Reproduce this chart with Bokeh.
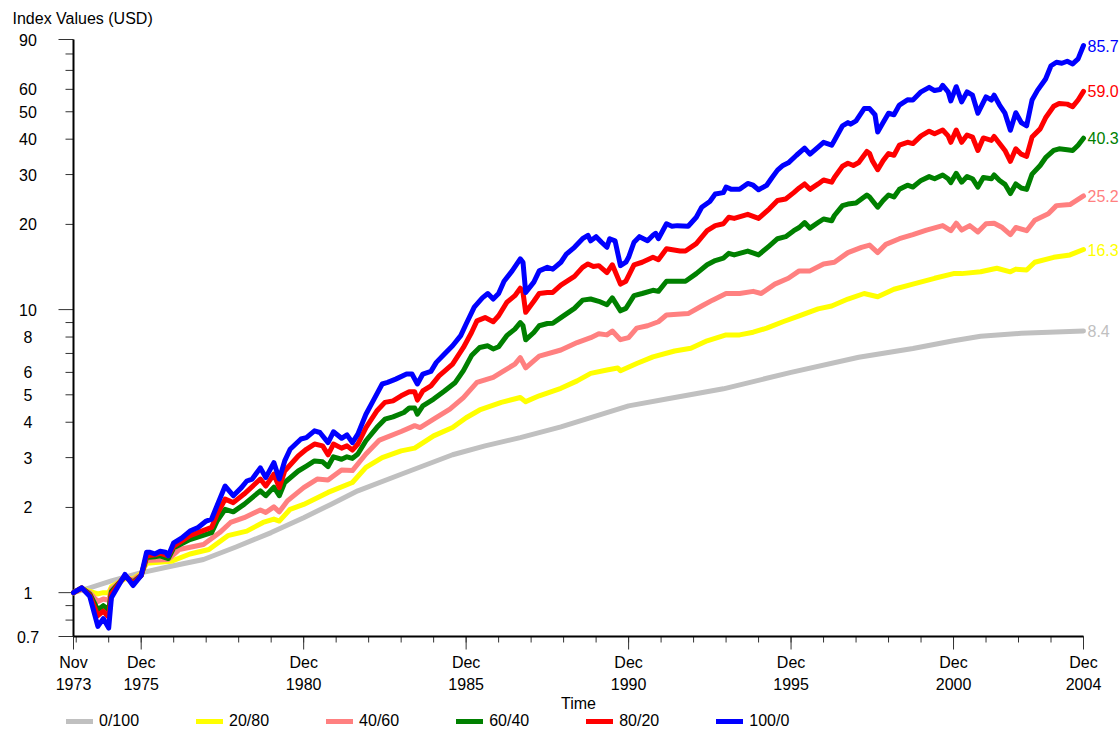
import math

from bokeh.plotting import figure
from bokeh.models import ColumnDataSource, Range1d, Legend, LegendItem
from bokeh.core.properties import value
from bokeh.embed import file_html
from bokeh.resources import INLINE

FONT = "Liberation Sans"
FS = "16px"

# Growth of 1 USD invested in Nov 1973, by equity/bond mix (month, index value)
MIX_0_100 = [
    ("1973-11", 1.00), ("1974-05", 1.04), ("1975-01", 1.10), ("1975-11", 1.17), ("1976-11", 1.24),
    ("1977-11", 1.31), ("1978-11", 1.45), ("1979-12", 1.63), ("1980-12", 1.84), ("1981-10", 2.05),
    ("1982-08", 2.29), ("1983-12", 2.62), ("1985-07", 3.07), ("1986-07", 3.30), ("1987-08", 3.53),
    ("1988-11", 3.85), ("1990-12", 4.57), ("1992-03", 4.85), ("1993-11", 5.25), ("1995-12", 6.00),
    ("1998-01", 6.79), ("1999-09", 7.29), ("2000-12", 7.76), ("2001-10", 8.05), ("2003-01", 8.25),
    ("2004-12", 8.40),
]

MIX_20_80 = [
    ("1973-11", 1.00), ("1974-02", 1.03), ("1974-05", 1.01), ("1974-08", 0.99), ("1974-10", 1.00),
    ("1974-12", 1.00), ("1975-01", 1.05), ("1975-06", 1.12), ("1975-09", 1.12), ("1975-12", 1.17),
    ("1976-02", 1.27), ("1976-11", 1.29), ("1977-06", 1.37), ("1978-01", 1.42), ("1978-08", 1.59),
    ("1979-03", 1.65), ("1979-09", 1.77), ("1980-01", 1.82), ("1980-03", 1.79), ("1980-07", 1.97),
    ("1980-12", 2.05), ("1981-09", 2.26), ("1982-06", 2.45), ("1982-11", 2.77), ("1983-05", 3.00),
    ("1983-12", 3.17), ("1984-05", 3.24), ("1984-12", 3.58), ("1985-07", 3.83), ("1985-12", 4.15),
    ("1986-05", 4.42), ("1987-01", 4.70), ("1987-08", 4.89), ("1987-10", 4.73), ("1988-03", 4.96),
    ("1988-11", 5.27), ("1989-05", 5.60), ("1989-10", 5.95), ("1990-04", 6.12), ("1990-08", 6.22),
    ("1990-09", 6.08), ("1991-03", 6.45), ("1991-09", 6.81), ("1992-05", 7.14), ("1992-11", 7.30),
    ("1993-05", 7.76), ("1993-12", 8.14), ("1994-05", 8.14), ("1994-10", 8.32), ("1995-03", 8.60),
    ("1995-09", 9.06), ("1996-03", 9.50), ("1996-10", 10.06), ("1997-03", 10.3), ("1997-09", 10.9),
    ("1998-03", 11.4), ("1998-08", 11.1), ("1999-02", 11.8), ("1999-09", 12.3), ("2000-05", 12.9),
    ("2000-12", 13.4), ("2001-03", 13.4), ("2001-10", 13.6), ("2002-04", 14.0), ("2002-09", 13.6),
    ("2002-11", 13.9), ("2003-03", 13.8), ("2003-06", 14.7), ("2004-01", 15.3), ("2004-07", 15.6),
    ("2004-12", 16.3),
]

MIX_40_60 = [
    ("1973-11", 1.00), ("1974-02", 1.03), ("1974-05", 1.00), ("1974-08", 0.93), ("1974-10", 0.95),
    ("1974-12", 0.94), ("1975-01", 1.03), ("1975-06", 1.13), ("1975-09", 1.11), ("1975-12", 1.16),
    ("1976-02", 1.30), ("1976-10", 1.31), ("1977-02", 1.42), ("1977-11", 1.48), ("1978-05", 1.63),
    ("1978-09", 1.77), ("1979-02", 1.84), ("1979-08", 1.96), ("1979-10", 1.92), ("1980-01", 2.01),
    ("1980-03", 1.93), ("1980-06", 2.11), ("1980-12", 2.35), ("1981-05", 2.52), ("1981-09", 2.50),
    ("1982-02", 2.71), ("1982-06", 2.70), ("1982-11", 3.09), ("1983-04", 3.46), ("1983-12", 3.71),
    ("1984-05", 3.89), ("1984-07", 3.83), ("1984-12", 4.10), ("1985-06", 4.45), ("1985-11", 4.89),
    ("1986-04", 5.53), ("1986-10", 5.76), ("1987-01", 6.00), ("1987-06", 6.42), ("1987-08", 6.77),
    ("1987-10", 6.23), ("1988-03", 6.85), ("1988-11", 7.20), ("1989-05", 7.65), ("1989-10", 7.96),
    ("1990-01", 8.22), ("1990-04", 8.14), ("1990-06", 8.40), ("1990-09", 7.83), ("1990-12", 7.96),
    ("1991-03", 8.60), ("1991-07", 8.77), ("1991-11", 9.06), ("1992-02", 9.57), ("1992-10", 9.68),
    ("1993-03", 10.3), ("1993-07", 10.8), ("1993-12", 11.4), ("1994-05", 11.4), ("1994-10", 11.6),
    ("1995-01", 11.4), ("1995-06", 12.3), ("1995-11", 12.9), ("1996-03", 13.7), ("1996-07", 13.7),
    ("1996-12", 14.5), ("1997-04", 14.7), ("1997-09", 15.9), ("1998-02", 16.6), ("1998-05", 16.9),
    ("1998-08", 15.9), ("1998-11", 17.0), ("1999-04", 17.8), ("1999-09", 18.4), ("2000-02", 19.1),
    ("2000-08", 19.8), ("2000-11", 19.0), ("2001-01", 20.2), ("2001-03", 19.1), ("2001-06", 19.8),
    ("2001-09", 18.8), ("2001-12", 20.1), ("2002-03", 20.2), ("2002-06", 19.5), ("2002-09", 18.4),
    ("2002-11", 19.5), ("2003-03", 19.0), ("2003-06", 20.7), ("2003-11", 21.8), ("2004-02", 23.3),
    ("2004-07", 23.5), ("2004-12", 25.2),
]

MIX_60_40 = [
    ("1973-11", 1.00), ("1974-02", 1.04), ("1974-05", 0.99), ("1974-08", 0.87), ("1974-10", 0.90),
    ("1974-12", 0.87), ("1975-01", 1.01), ("1975-06", 1.14), ("1975-09", 1.09), ("1975-12", 1.15),
    ("1976-02", 1.33), ("1976-05", 1.34), ("1976-07", 1.35), ("1976-10", 1.32), ("1976-12", 1.44),
    ("1977-06", 1.54), ("1978-02", 1.63), ("1978-04", 1.79), ("1978-07", 1.97), ("1978-10", 1.93),
    ("1979-02", 2.05), ("1979-08", 2.29), ("1979-10", 2.20), ("1980-01", 2.36), ("1980-03", 2.20),
    ("1980-05", 2.45), ("1980-10", 2.69), ("1981-01", 2.80), ("1981-04", 2.92), ("1981-07", 2.90),
    ("1981-09", 2.79), ("1981-11", 3.02), ("1982-02", 2.96), ("1982-04", 3.02), ("1982-06", 2.98),
    ("1982-08", 3.09), ("1982-11", 3.44), ("1983-03", 3.83), ("1983-06", 4.10), ("1983-09", 4.18),
    ("1984-01", 4.33), ("1984-03", 4.49), ("1984-05", 4.49), ("1984-06", 4.27), ("1984-08", 4.57),
    ("1984-12", 4.83), ("1985-04", 5.16), ("1985-08", 5.53), ("1985-11", 6.09), ("1986-02", 6.88),
    ("1986-05", 7.35), ("1986-08", 7.45), ("1986-10", 7.26), ("1986-12", 7.39), ("1987-03", 8.09),
    ("1987-06", 8.53), ("1987-08", 9.00), ("1987-09", 8.77), ("1987-10", 7.82), ("1988-01", 8.30),
    ("1988-03", 8.77), ("1988-06", 8.93), ("1988-08", 8.95), ("1988-11", 9.37), ("1989-04", 10.1),
    ("1989-07", 10.8), ("1989-10", 10.9), ("1990-01", 10.7), ("1990-04", 10.4), ("1990-06", 11.0),
    ("1990-09", 9.90), ("1990-11", 10.1), ("1991-02", 11.2), ("1991-05", 11.4), ("1991-09", 11.7),
    ("1991-11", 11.6), ("1992-02", 12.6), ("1992-07", 12.6), ("1992-09", 12.6), ("1993-01", 13.4),
    ("1993-05", 14.4), ("1993-08", 14.9), ("1993-11", 15.2), ("1994-01", 15.8), ("1994-03", 15.6),
    ("1994-08", 16.1), ("1994-12", 15.6), ("1995-04", 16.8), ("1995-07", 17.8), ("1995-10", 18.1),
    ("1996-01", 19.0), ("1996-03", 19.5), ("1996-05", 20.3), ("1996-07", 19.4), ("1996-10", 20.3),
    ("1996-12", 20.9), ("1997-03", 20.6), ("1997-04", 21.5), ("1997-07", 23.3), ("1997-09", 23.6),
    ("1997-12", 23.8), ("1998-04", 25.4), ("1998-05", 25.0), ("1998-06", 24.3), ("1998-08", 23.0),
    ("1998-10", 24.3), ("1998-12", 25.4), ("1999-02", 25.0), ("1999-04", 26.6), ("1999-07", 27.5),
    ("1999-09", 27.1), ("1999-12", 28.6), ("2000-03", 29.5), ("2000-05", 29.0), ("2000-08", 29.9),
    ("2000-10", 29.0), ("2000-11", 28.1), ("2001-01", 30.3), ("2001-03", 28.2), ("2001-05", 29.5),
    ("2001-07", 29.0), ("2001-09", 27.1), ("2001-11", 29.3), ("2002-02", 29.0), ("2002-03", 29.9),
    ("2002-05", 28.6), ("2002-07", 27.7), ("2002-09", 25.7), ("2002-11", 27.8), ("2003-01", 26.9),
    ("2003-03", 26.6), ("2003-05", 30.1), ("2003-08", 32.3), ("2003-10", 34.4), ("2004-01", 36.5),
    ("2004-03", 37.0), ("2004-06", 36.7), ("2004-08", 36.5), ("2004-10", 38.1), ("2004-12", 40.3),
]

MIX_80_20 = [
    ("1973-11", 1.00), ("1974-02", 1.04), ("1974-05", 0.98), ("1974-08", 0.83), ("1974-10", 0.86),
    ("1974-12", 0.82), ("1975-01", 0.99), ("1975-06", 1.15), ("1975-09", 1.08), ("1975-12", 1.15),
    ("1976-02", 1.35), ("1976-05", 1.36), ("1976-07", 1.38), ("1976-10", 1.35), ("1976-12", 1.46),
    ("1977-06", 1.59), ("1978-02", 1.70), ("1978-04", 1.89), ("1978-07", 2.14), ("1978-10", 2.08),
    ("1979-02", 2.23), ("1979-08", 2.52), ("1979-10", 2.38), ("1980-01", 2.62), ("1980-03", 2.35),
    ("1980-05", 2.69), ("1980-10", 3.04), ("1981-01", 3.21), ("1981-04", 3.35), ("1981-07", 3.30),
    ("1981-09", 3.07), ("1981-11", 3.35), ("1982-02", 3.24), ("1982-04", 3.30), ("1982-06", 3.19),
    ("1982-08", 3.35), ("1982-11", 3.83), ("1983-03", 4.38), ("1983-06", 4.70), ("1983-09", 4.76),
    ("1983-12", 4.96), ("1984-03", 5.13), ("1984-05", 5.13), ("1984-06", 4.79), ("1984-08", 5.16),
    ("1984-11", 5.38), ("1985-02", 5.83), ("1985-07", 6.42), ("1985-11", 7.35), ("1986-02", 8.30),
    ("1986-04", 9.12), ("1986-07", 9.37), ("1986-10", 9.06), ("1986-12", 9.51), ("1987-03", 10.6),
    ("1987-06", 11.2), ("1987-08", 11.9), ("1987-09", 11.5), ("1987-10", 9.78), ("1988-01", 10.7),
    ("1988-03", 11.4), ("1988-06", 11.5), ("1988-08", 11.5), ("1988-11", 12.2), ("1989-04", 13.1),
    ("1989-07", 14.1), ("1989-09", 14.5), ("1989-11", 14.2), ("1990-01", 14.3), ("1990-04", 13.5),
    ("1990-06", 14.4), ("1990-09", 12.3), ("1990-11", 12.6), ("1991-02", 14.4), ("1991-05", 14.7),
    ("1991-09", 15.3), ("1991-11", 15.0), ("1992-02", 16.4), ("1992-07", 16.1), ("1992-09", 16.1),
    ("1993-01", 17.1), ("1993-05", 19.0), ("1993-08", 19.8), ("1993-11", 20.1), ("1994-01", 21.2),
    ("1994-03", 21.0), ("1994-08", 21.7), ("1994-12", 21.0), ("1995-04", 22.7), ("1995-07", 24.3),
    ("1995-10", 24.6), ("1996-01", 25.9), ("1996-03", 26.9), ("1996-05", 27.8), ("1996-07", 26.6),
    ("1996-10", 27.8), ("1996-12", 28.7), ("1997-03", 28.2), ("1997-04", 29.3), ("1997-07", 32.1),
    ("1997-09", 32.9), ("1997-11", 32.3), ("1998-01", 33.1), ("1998-04", 36.2), ("1998-05", 35.6),
    ("1998-06", 33.6), ("1998-08", 31.2), ("1998-10", 33.6), ("1998-12", 35.6), ("1999-02", 35.1),
    ("1999-04", 38.1), ("1999-07", 39.0), ("1999-09", 38.6), ("1999-12", 41.1), ("2000-03", 42.7),
    ("2000-05", 41.8), ("2000-08", 43.1), ("2000-10", 41.1), ("2000-11", 39.0), ("2001-01", 43.1),
    ("2001-03", 39.0), ("2001-05", 41.4), ("2001-07", 40.7), ("2001-09", 36.5), ("2001-11", 40.4),
    ("2002-02", 39.6), ("2002-03", 40.9), ("2002-05", 38.6), ("2002-07", 36.5), ("2002-09", 33.4),
    ("2002-11", 37.0), ("2003-01", 35.4), ("2003-03", 34.8), ("2003-05", 40.7), ("2003-08", 43.5),
    ("2003-10", 47.6), ("2004-01", 52.3), ("2004-03", 53.5), ("2004-06", 53.2), ("2004-08", 52.1),
    ("2004-10", 55.0), ("2004-12", 59.0),
]

MIX_100_0 = [
    ("1973-11", 1.00), ("1974-02", 1.04), ("1974-05", 0.97), ("1974-08", 0.76), ("1974-10", 0.81),
    ("1974-12", 0.75), ("1975-01", 0.96), ("1975-06", 1.16), ("1975-09", 1.06), ("1975-12", 1.15),
    ("1976-02", 1.39), ("1976-03", 1.39), ("1976-05", 1.37), ("1976-07", 1.40), ("1976-09", 1.39),
    ("1976-10", 1.35), ("1976-12", 1.50), ("1977-03", 1.56), ("1977-06", 1.65), ("1977-09", 1.70),
    ("1977-12", 1.79), ("1978-02", 1.82), ("1978-04", 2.03), ("1978-07", 2.38), ("1978-10", 2.20),
    ("1979-01", 2.35), ("1979-03", 2.48), ("1979-05", 2.52), ("1979-08", 2.76), ("1979-10", 2.55),
    ("1980-01", 2.88), ("1980-03", 2.52), ("1980-05", 2.92), ("1980-07", 3.21), ("1980-11", 3.49),
    ("1981-01", 3.53), ("1981-04", 3.73), ("1981-06", 3.68), ("1981-09", 3.39), ("1981-11", 3.70),
    ("1982-02", 3.51), ("1982-04", 3.61), ("1982-06", 3.39), ("1982-08", 3.63), ("1982-11", 4.27),
    ("1983-02", 4.83), ("1983-05", 5.46), ("1983-07", 5.53), ("1983-10", 5.68), ("1984-02", 5.92),
    ("1984-04", 5.92), ("1984-06", 5.46), ("1984-08", 5.92), ("1984-11", 6.05), ("1985-01", 6.51),
    ("1985-04", 6.97), ("1985-07", 7.45), ("1985-10", 8.09), ("1985-12", 8.89), ("1986-03", 10.2),
    ("1986-06", 11.0), ("1986-08", 11.4), ("1986-10", 10.9), ("1986-12", 11.4), ("1987-02", 12.6),
    ("1987-05", 13.7), ("1987-08", 15.1), ("1987-09", 14.7), ("1987-10", 11.5), ("1988-01", 12.5),
    ("1988-03", 13.7), ("1988-06", 14.1), ("1988-08", 13.9), ("1988-11", 14.7), ("1989-01", 15.7),
    ("1989-04", 16.6), ("1989-07", 17.8), ("1989-09", 18.3), ("1989-10", 17.5), ("1989-12", 18.1),
    ("1990-02", 17.3), ("1990-04", 16.6), ("1990-05", 17.8), ("1990-07", 17.5), ("1990-09", 14.3),
    ("1990-11", 14.7), ("1990-12", 15.3), ("1991-02", 17.3), ("1991-04", 18.1), ("1991-07", 17.5),
    ("1991-09", 18.3), ("1991-10", 18.6), ("1991-11", 17.8), ("1992-02", 20.1), ("1992-04", 19.7),
    ("1992-06", 19.8), ("1992-10", 19.7), ("1993-01", 21.2), ("1993-03", 23.0), ("1993-06", 24.1),
    ("1993-08", 25.6), ("1993-11", 25.9), ("1993-12", 27.1), ("1994-02", 26.6), ("1994-05", 26.6),
    ("1994-08", 27.9), ("1994-10", 27.5), ("1994-12", 26.5), ("1995-03", 27.5), ("1995-05", 29.3),
    ("1995-07", 31.1), ("1995-09", 32.3), ("1995-11", 33.0), ("1996-02", 35.1), ("1996-05", 37.2),
    ("1996-07", 35.4), ("1996-10", 37.5), ("1996-12", 39.0), ("1997-03", 38.1), ("1997-04", 39.6),
    ("1997-07", 44.6), ("1997-09", 45.8), ("1997-10", 45.2), ("1997-12", 46.4), ("1998-03", 51.3),
    ("1998-05", 51.3), ("1998-07", 48.8), ("1998-08", 42.4), ("1998-10", 45.8), ("1998-12", 49.4),
    ("1999-02", 48.8), ("1999-04", 52.8), ("1999-07", 55.1), ("1999-09", 55.0), ("1999-12", 58.8),
    ("2000-03", 61.0), ("2000-05", 59.4), ("2000-07", 59.9), ("2000-08", 62.0), ("2000-10", 58.8),
    ("2000-11", 54.6), ("2001-01", 61.3), ("2001-03", 54.2), ("2001-05", 58.8), ("2001-07", 57.2),
    ("2001-09", 49.4), ("2001-12", 56.4), ("2002-02", 55.0), ("2002-03", 57.2), ("2002-05", 52.8),
    ("2002-07", 49.4), ("2002-09", 43.0), ("2002-11", 49.6), ("2003-01", 45.8), ("2003-03", 44.6),
    ("2003-05", 55.0), ("2003-07", 59.5), ("2003-10", 65.3), ("2003-12", 72.7), ("2004-02", 74.8),
    ("2004-04", 74.2), ("2004-06", 75.4), ("2004-08", 73.8), ("2004-10", 76.9), ("2004-12", 85.7),
]

SERIES_NAMES = ["0/100", "20/80", "40/60", "60/40", "80/20", "100/0"]
SERIES_COLORS = ["#c0c0c0", "#ffff00", "#ff8080", "#008000", "#ff0000", "#0000ff"]
SERIES_DATA = [MIX_0_100, MIX_20_80, MIX_40_60, MIX_60_40, MIX_80_20, MIX_100_0]

X_TICK_MONTHS = ["1973-11", "1975-12", "1980-12", "1985-12", "1990-12", "1995-12", "2000-12", "2004-12"]
X_TICK_TOP = ["Nov", "Dec", "Dec", "Dec", "Dec", "Dec", "Dec", "Dec"]
X_TICK_BOTTOM = ["1973", "1975", "1980", "1985", "1990", "1995", "2000", "2004"]
Y_TICK_LABELS = [0.7, 1, 2, 3, 4, 5, 6, 8, 10, 20, 30, 40, 50, 60, 90]
Y_LONG_TICKS = [0.7, 1, 10, 90]
Y_SHORT_TICKS = [0.8, 0.9, 2, 3, 4, 5, 6, 7, 8, 9, 20, 30, 40, 50, 60, 70, 80]
Y_MIN, Y_MAX = 0.7, 90


def month_index(stamp):
    year, month = map(int, stamp.split("-"))
    return (year - 1973) * 12 + month - 11


FIRST_M = month_index("1973-11")
LAST_M = month_index("2004-12")

# Page geometry (pixels): the plotting area fills the whole canvas and the axes are
# drawn as ordinary glyphs, so the axis box sits at these pixel edges.
W, H = 1120, 734
BOX_LEFT, BOX_RIGHT = 73, 1083
BOX_TOP, BOX_BOTTOM = 39, 636

px_per_month = (BOX_RIGHT - BOX_LEFT) / (LAST_M - FIRST_M)
px_per_decade = (BOX_BOTTOM - BOX_TOP) / (math.log10(Y_MAX) - math.log10(Y_MIN))


def x_at(px):
    return FIRST_M + (px - BOX_LEFT) / px_per_month


def y_at(py):
    return 10 ** (math.log10(Y_MIN) - (py - BOX_BOTTOM) / px_per_decade)


p = figure(width=W, height=H, y_axis_type="log",
           x_range=Range1d(x_at(0), x_at(W)), y_range=Range1d(y_at(H), y_at(0)),
           x_axis_location=None, y_axis_location=None,
           output_backend="svg", toolbar_location=None,
           min_border=0, min_border_left=0, min_border_right=0,
           min_border_top=0, min_border_bottom=0)
p.outline_line_color = None
p.grid.visible = False
p.background_fill_color = "white"
p.border_fill_color = "white"

AXIS_COLOR = "black"
TICK_COLOR = "#333333"


def text_at(xs, ys, texts, align="center", color="black"):
    p.text(x=xs, y=ys, text=texts, text_align=align, text_baseline="middle",
           text_color=color, text_font=value(FONT), text_font_size=value(FS))


# ---- x axis ----
dec_months = [month_index(f"{y}-12") for y in range(1973, 2005)]
major_x = [month_index(s) for s in X_TICK_MONTHS]
p.segment(x0=dec_months, y0=[Y_MIN] * len(dec_months), x1=dec_months,
          y1=[y_at(BOX_BOTTOM + 6)] * len(dec_months), line_color=TICK_COLOR, line_width=1)
p.segment(x0=major_x, y0=[Y_MIN] * len(major_x), x1=major_x,
          y1=[y_at(BOX_BOTTOM + 13)] * len(major_x), line_color=TICK_COLOR, line_width=1)
p.segment(x0=[FIRST_M], y0=[Y_MIN], x1=[LAST_M], y1=[Y_MIN], line_color=AXIS_COLOR, line_width=2)
text_at(major_x, [y_at(BOX_BOTTOM + 26)] * len(major_x), X_TICK_TOP)
text_at(major_x, [y_at(BOX_BOTTOM + 47)] * len(major_x), X_TICK_BOTTOM)
text_at([(FIRST_M + LAST_M) / 2], [y_at(BOX_BOTTOM + 67)], ["Time"])

# ---- y axis ----
x_long, x_short = x_at(BOX_LEFT - 15), x_at(BOX_LEFT - 8)
p.segment(x0=[x_short] * len(Y_SHORT_TICKS), y0=Y_SHORT_TICKS, x1=[FIRST_M] * len(Y_SHORT_TICKS),
          y1=Y_SHORT_TICKS, line_color=TICK_COLOR, line_width=1)
p.segment(x0=[x_long] * len(Y_LONG_TICKS), y0=Y_LONG_TICKS, x1=[FIRST_M] * len(Y_LONG_TICKS),
          y1=Y_LONG_TICKS, line_color=TICK_COLOR, line_width=1)
p.segment(x0=[FIRST_M], y0=[Y_MIN], x1=[FIRST_M], y1=[Y_MAX], line_color=AXIS_COLOR, line_width=2)
text_at([x_at(27.5)] * len(Y_TICK_LABELS), Y_TICK_LABELS, [f"{v:g}" for v in Y_TICK_LABELS])
text_at([x_at(12)], [y_at(18)], ["Index Values (USD)"], align="left")

# ---- series ----
items = []
end_x, end_y, end_txt, end_col = [], [], [], []
for name, color, data in zip(SERIES_NAMES, SERIES_COLORS, SERIES_DATA):
    src = ColumnDataSource(dict(x=[month_index(d) for d, _ in data], y=[v for _, v in data]))
    r = p.line("x", "y", source=src, line_color=color, line_width=5, line_join="round",
               line_cap="round")
    items.append(LegendItem(label=name, renderers=[r]))
    end_x.append(month_index(data[-1][0]))
    end_y.append(data[-1][1])
    end_txt.append(f"{data[-1][1]:.1f}")
    end_col.append(color)

p.text(x="x", y="y", text="t", text_color="c",
       source=ColumnDataSource(dict(x=end_x, y=end_y, t=end_txt, c=end_col)),
       x_offset=4, text_align="left", text_baseline="middle",
       text_font=value(FONT), text_font_size=value(FS))

legend = Legend(items=items, orientation="horizontal", location=(66, 4),
                glyph_width=27, glyph_height=14, label_standoff=6, spacing=57,
                padding=0, margin=0, border_line_alpha=0, background_fill_alpha=0,
                label_text_font=FONT, label_text_font_size=FS, label_text_color="black",
                label_height=16)
p.add_layout(legend)

open("out.html", "w").write(file_html(p, INLINE))
